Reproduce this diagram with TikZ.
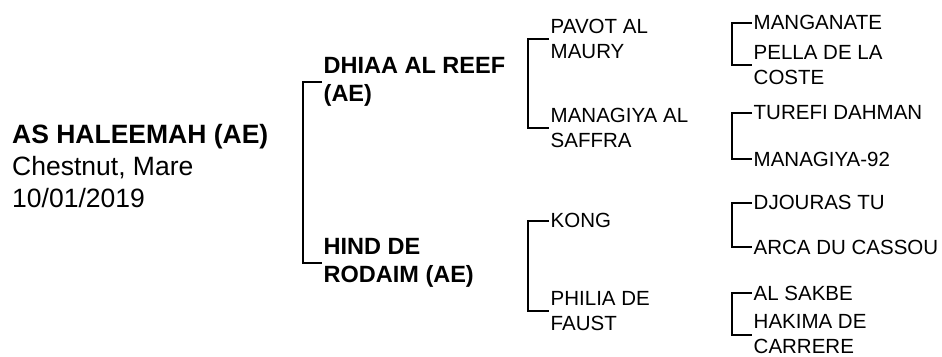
\documentclass[tikz,border=0pt]{standalone}
\usepackage{fontspec}
\setmainfont{Liberation Sans}
\begin{document}
\begin{tikzpicture}[x=1pt,y=-1pt,
  lbl/.style={anchor=west,align=left,inner xsep=1.5pt,inner ysep=0pt},
  g1/.style={lbl,font=\fontsize{23.5}{28}\selectfont\bfseries},
  g2/.style={lbl,font=\fontsize{20.5}{25}\selectfont},
  brk/.style={line width=2pt,line join=miter}]
\useasboundingbox (0,0) rectangle (942,356);
% root
\node[anchor=west,align=left,inner sep=0pt,font=\fontsize{26.5}{32}\selectfont] (root) at (12,166)
  {\textbf{AS HALEEMAH (AE)}\\Chestnut, Mare\\10/01/2019};
% generation 1
\coordinate (b1) at (303,0);
\node[g1] (s) at (322,82) {DHIAA AL REEF\\(AE)};
\node[g1] (d) at (322,263) {HIND DE\\RODAIM (AE)};
% generation 2
\coordinate (b2) at (528,0);
\node[g2] (ss) at (549,39.3) {PAVOT AL\\MAURY};
\node[g2] (sd) at (549,128.3) {MANAGIYA AL\\SAFFRA};
\node[g2] (ds) at (549,220.7) {KONG};
\node[g2] (dd) at (549,310.7) {PHILIA DE\\FAUST};
% generation 3
\coordinate (b3) at (732,0);
\node[g2] (sss) at (752,22.7) {MANGANATE};
\node[g2] (ssd) at (752,65) {PELLA DE LA\\COSTE};
\node[g2] (sds) at (752,112.7) {TUREFI DAHMAN};
\node[g2] (sdd) at (752,159.3) {MANAGIYA-92};
\node[g2] (dss) at (752,202.7) {DJOURAS TU};
\node[g2] (dsd) at (752,247.3) {ARCA DU CASSOU};
\node[g2] (dds) at (752,293.3) {AL SAKBE};
\node[g2] (ddd) at (752,334.5) {HAKIMA DE\\CARRERE};
% brackets
\draw[brk] (s.west) -- (s.west -| b1) -- (d.west -| b1) -- (d.west);
\draw[brk] (ss.west) -- (ss.west -| b2) -- (sd.west -| b2) -- (sd.west);
\draw[brk] (ds.west) -- (ds.west -| b2) -- (dd.west -| b2) -- (dd.west);
\draw[brk] (sss.west) -- (sss.west -| b3) -- (ssd.west -| b3) -- (ssd.west);
\draw[brk] (sds.west) -- (sds.west -| b3) -- (sdd.west -| b3) -- (sdd.west);
\draw[brk] (dss.west) -- (dss.west -| b3) -- (dsd.west -| b3) -- (dsd.west);
\draw[brk] (dds.west) -- (dds.west -| b3) -- (ddd.west -| b3) -- (ddd.west);
\end{tikzpicture}
\end{document}
